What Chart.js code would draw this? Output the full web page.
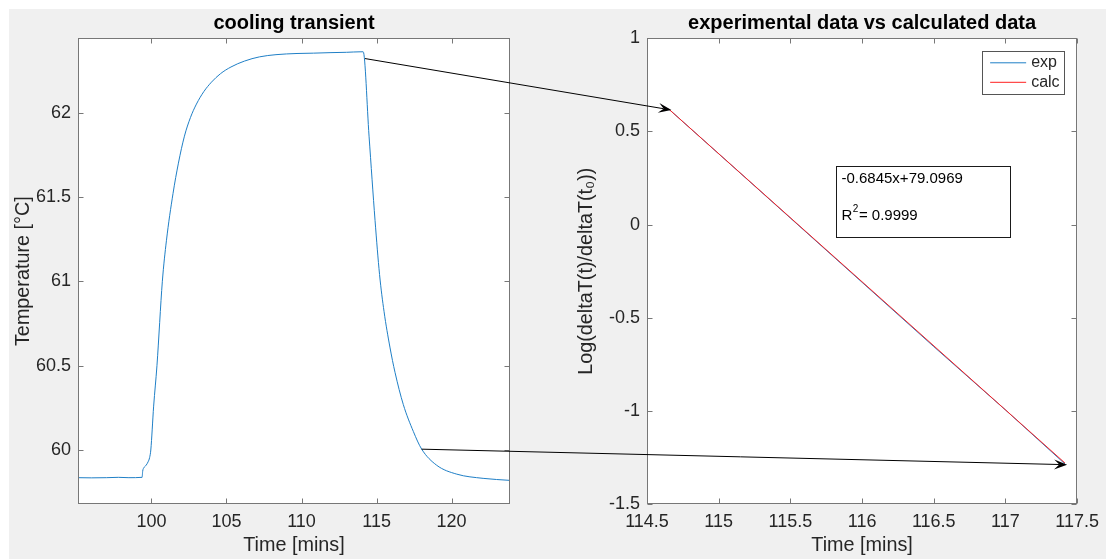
<!DOCTYPE html>
<html>
<head>
<meta charset="utf-8">
<script src="https://cdn.jsdelivr.net/npm/chart.js@4.4.1/dist/chart.umd.min.js"></script>
<style>
  html, body { margin: 0; padding: 0; background: #ffffff; }
  #figure { position: relative; width: 1106px; height: 559px; overflow: hidden; }
  #bg { position: absolute; left: 9px; top: 9px; right: 0; bottom: 0; background: #f0f0f0; }
  canvas { position: absolute; top: 0; }
  #left { left: 0; width: 553px; height: 559px; }
  #right { left: 553px; width: 553px; height: 559px; }
  #arrows { left: 0; width: 1106px; height: 559px; pointer-events: none; }
</style>
</head>
<body>
<div id="figure">
  <div id="bg"></div>
  <canvas id="left" width="553" height="559"></canvas>
  <canvas id="right" width="553" height="559"></canvas>
  <canvas id="arrows" width="1106" height="559"></canvas>
</div>
<script>
// cooling transient (left panel)
const coolTime = [95.11, 96.0, 97.0, 97.8, 98.5, 99.38, 99.42, 99.5, 99.65, 99.78, 99.88, 99.96,
  100.15, 100.37, 100.73, 101.0, 101.44, 101.8, 102.2, 102.6, 103.0, 103.5, 104.0, 104.6,
  105.3, 106.2, 107.2, 108.3, 109.7, 110.8, 111.9, 113.0, 113.9, 114.11,
  114.5, 114.9, 115.2, 115.5, 115.89, 116.23, 116.78, 117.45, 118.0, 119.0, 120.34,
  122.1, 123.89];
const coolTemp = [59.836, 59.835, 59.836, 59.838, 59.836, 59.838, 59.875, 59.895, 59.91, 59.93, 59.955, 60.0,
  60.26, 60.5, 61.0, 61.24, 61.52, 61.7, 61.86, 61.97, 62.05, 62.125, 62.18, 62.23,
  62.27, 62.305, 62.33, 62.343, 62.35, 62.352, 62.355, 62.357, 62.36, 62.36,
  61.86, 61.36, 61.04, 60.82, 60.61, 60.46, 60.27, 60.11, 60.006, 59.91, 59.857,
  59.832, 59.82];
const coolXTicks = [100, 105, 110, 115, 120];
const coolYTicks = [60, 60.5, 61, 61.5, 62];
const coolXRange = [95.11, 123.89];
const coolYRange = [59.68, 62.44];

// log fit (right panel)
const expTime = [114.652, 115.0, 115.5, 116.0, 116.5, 117.0, 117.415];
const expLog = [0.62, 0.38, 0.035, -0.31, -0.655, -0.995, -1.285];
const calcTime = [114.652, 117.415];
const calcLog = [0.62, -1.28];
const fitXTicks = [114.5, 115, 115.5, 116, 116.5, 117, 117.5];
const fitYTicks = [-1.5, -1, -0.5, 0, 0.5, 1];
const fitXRange = [114.5, 117.5];
const fitYRange = [-1.5, 1];
const fitText = '-0.6845x+79.0969';
const r2Text = '0.9999';

// arrows: [time, temp] on the left panel -> [time, log] on the right panel
const arrowFrom = [[114.23, 62.32], [118.0, 60.005]];
const arrowTo = [[114.67, 0.615], [117.43, -1.289]];

const FONT = "'Liberation Sans', Arial, Helvetica, sans-serif";
const INK = '#262626';
Chart.defaults.font.family = FONT;
Chart.defaults.color = INK;

const toPoints = (xs, ys) => xs.map((v, i) => ({x: v, y: ys[i]}));

// white axes area, box and inward ticks on all four sides
const matlabAxes = {
    id: 'matlabAxes',
    beforeDraw(chart) {
        const {ctx, chartArea: a} = chart;
        ctx.save();
        ctx.fillStyle = '#ffffff';
        ctx.fillRect(a.left, a.top, a.right - a.left, a.bottom - a.top);
        ctx.restore();
    },
    afterDraw(chart) {
        const {ctx, chartArea: a, scales} = chart;
        const L = Math.round(a.left) + 0.5, R = Math.round(a.right) - 0.5;
        const T = Math.round(a.top) + 0.5, B = Math.round(a.bottom) - 0.5;
        ctx.save();
        ctx.strokeStyle = '#777777';
        ctx.lineWidth = 1;
        ctx.beginPath();
        scales.x.ticks.forEach(t => {
            const px = Math.round(scales.x.getPixelForValue(t.value)) + 0.5;
            ctx.moveTo(px, B); ctx.lineTo(px, B - 5);
            ctx.moveTo(px, T); ctx.lineTo(px, T + 5);
        });
        scales.y.ticks.forEach(t => {
            const py = Math.round(scales.y.getPixelForValue(t.value)) + 0.5;
            ctx.moveTo(L, py); ctx.lineTo(L + 5, py);
            ctx.moveTo(R, py); ctx.lineTo(R - 5, py);
        });
        ctx.stroke();
        ctx.strokeRect(L, T, R - L, B - T);
        ctx.restore();
    }
};

// legend box in the upper right corner of the right axes
const boxLegend = {
    id: 'boxLegend',
    afterDraw(chart) {
        const {ctx, chartArea: a} = chart;
        const w = 82, h = 43;
        const left = a.right - 13 - w, top = a.top + 12.5;
        ctx.save();
        ctx.fillStyle = '#ffffff';
        ctx.fillRect(left, top, w, h);
        ctx.strokeStyle = '#555555';
        ctx.lineWidth = 1;
        ctx.strokeRect(Math.round(left) + 0.5, Math.round(top) + 0.5, w, h);
        ctx.font = '16px ' + FONT;
        ctx.textBaseline = 'middle';
        ctx.fillStyle = INK;
        chart.data.datasets.forEach((ds, i) => {
            const y = top + 12 + i * 19.5;
            ctx.strokeStyle = ds.borderColor;
            ctx.beginPath();
            ctx.moveTo(left + 8, y); ctx.lineTo(left + 44, y);
            ctx.stroke();
            ctx.fillText(ds.label, left + 49, y);
        });
        ctx.restore();
    }
};

// text box with the fitted line and R^2
const fitNote = {
    id: 'fitNote',
    afterDraw(chart) {
        const {ctx, chartArea: a} = chart;
        const left = a.left + 189, top = a.top + 127.5, w = 174, h = 71;
        ctx.save();
        ctx.fillStyle = '#ffffff';
        ctx.fillRect(left, top, w, h);
        ctx.strokeStyle = '#1a1a1a';
        ctx.lineWidth = 1;
        ctx.strokeRect(Math.round(left) + 0.5, Math.round(top) + 0.5, w, h);
        ctx.fillStyle = '#000000';
        ctx.textBaseline = 'middle';
        ctx.font = '15px ' + FONT;
        ctx.fillText(fitText, left + 5.5, top + 13);
        ctx.fillText('R', left + 5.5, top + 50.5);
        const rw = ctx.measureText('R').width;
        ctx.font = '10px ' + FONT;
        ctx.fillText('2', left + 5.5 + rw + 0.5, top + 43);
        const sw = ctx.measureText('2').width;
        ctx.font = '15px ' + FONT;
        ctx.fillText('= ' + r2Text, left + 5.5 + rw + sw + 1, top + 50.5);
        ctx.restore();
    }
};

function makeAxes(canvas, cfg) {
    return new Chart(canvas, {
        type: 'line',
        data: {datasets: cfg.datasets},
        options: {
            responsive: false,
            animation: false,
            events: [],
            layout: {padding: {left: 0, right: cfg.padRight, top: 0, bottom: 0}},
            elements: {point: {radius: 0}, line: {borderWidth: 1, tension: 0}},
            plugins: {
                legend: {display: false},
                tooltip: {enabled: false},
                title: {
                    display: true,
                    fullSize: false,
                    text: cfg.title,
                    color: '#000000',
                    font: {size: 20, weight: 'bold'},
                    padding: {top: 11, bottom: 3.3}
                }
            },
            scales: {
                x: {
                    type: 'linear',
                    min: cfg.xRange[0],
                    max: cfg.xRange[1],
                    afterFit: s => { s.height = 55; },
                    afterBuildTicks: s => { s.ticks = cfg.xTicks.map(v => ({value: v})); },
                    grid: {display: false, drawTicks: false},
                    border: {display: false},
                    ticks: {font: {size: 18}, color: INK, padding: 7, maxRotation: 0, autoSkip: false,
                        callback: v => String(v)},
                    title: {display: true, text: cfg.xLabel, color: INK, font: {size: 19.8},
                        padding: {top: 0, bottom: 2}}
                },
                y: {
                    type: 'linear',
                    min: cfg.yRange[0],
                    max: cfg.yRange[1],
                    afterFit: s => { s.width = cfg.yWidth; },
                    afterBuildTicks: s => { s.ticks = cfg.yTicks.map(v => ({value: v})); },
                    grid: {display: false, drawTicks: false},
                    border: {display: false},
                    ticks: {font: {size: 18}, color: INK, padding: 7, autoSkip: false,
                        callback: v => String(v)},
                    title: {display: true, text: cfg.yLabel, color: INK, font: {size: 19.8},
                        padding: {top: cfg.yTitlePad, bottom: 0}}
                }
            }
        },
        plugins: [matlabAxes].concat(cfg.extra || [])
    });
}

const coolChart = makeAxes(document.getElementById('left'), {
    title: 'cooling transient',
    xLabel: 'Time [mins]',
    yLabel: 'Temperature [°C]',
    xRange: coolXRange, yRange: coolYRange,
    xTicks: coolXTicks, yTicks: coolYTicks,
    yWidth: 78, padRight: 43, yTitlePad: 11.4,
    datasets: [{label: 'temp', data: toPoints(coolTime, coolTemp), borderColor: '#1f7fc6',
        cubicInterpolationMode: 'monotone'}]
});

const fitChart = makeAxes(document.getElementById('right'), {
    title: 'experimental data vs calculated data',
    xLabel: 'Time [mins]',
    yLabel: 'Log(deltaT(t)/deltaT(t₀))',
    xRange: fitXRange, yRange: fitYRange,
    xTicks: fitXTicks, yTicks: fitYTicks,
    yWidth: 94, padRight: 27, yTitlePad: 22,
    datasets: [
        {label: 'exp', data: toPoints(expTime, expLog), borderColor: '#1f7fc6', order: 2},
        {label: 'calc', data: toPoints(calcTime, calcLog), borderColor: '#ff2020', order: 1}
    ],
    extra: [boxLegend, fitNote]
});

// figure-level arrows linking the two panels
function drawArrows() {
    const ctx = document.getElementById('arrows').getContext('2d');
    const rightOffset = 553;
    ctx.strokeStyle = '#000000';
    ctx.fillStyle = '#000000';
    ctx.lineWidth = 1;
    arrowFrom.forEach((p, i) => {
        const x0 = coolChart.scales.x.getPixelForValue(p[0]);
        const y0 = coolChart.scales.y.getPixelForValue(p[1]);
        const x1 = rightOffset + fitChart.scales.x.getPixelForValue(arrowTo[i][0]);
        const y1 = fitChart.scales.y.getPixelForValue(arrowTo[i][1]);
        const ang = Math.atan2(y1 - y0, x1 - x0);
        const len = 13, half = 5;
        ctx.beginPath();
        ctx.moveTo(x0, y0);
        ctx.lineTo(x1 - Math.cos(ang) * len * 0.6, y1 - Math.sin(ang) * len * 0.6);
        ctx.stroke();
        ctx.save();
        ctx.translate(x1, y1);
        ctx.rotate(ang);
        ctx.beginPath();
        ctx.moveTo(0, 0);
        ctx.lineTo(-len, -half);
        ctx.lineTo(-len * 0.6, 0);
        ctx.lineTo(-len, half);
        ctx.closePath();
        ctx.fill();
        ctx.restore();
    });
}
drawArrows();
</script>
</body>
</html>
